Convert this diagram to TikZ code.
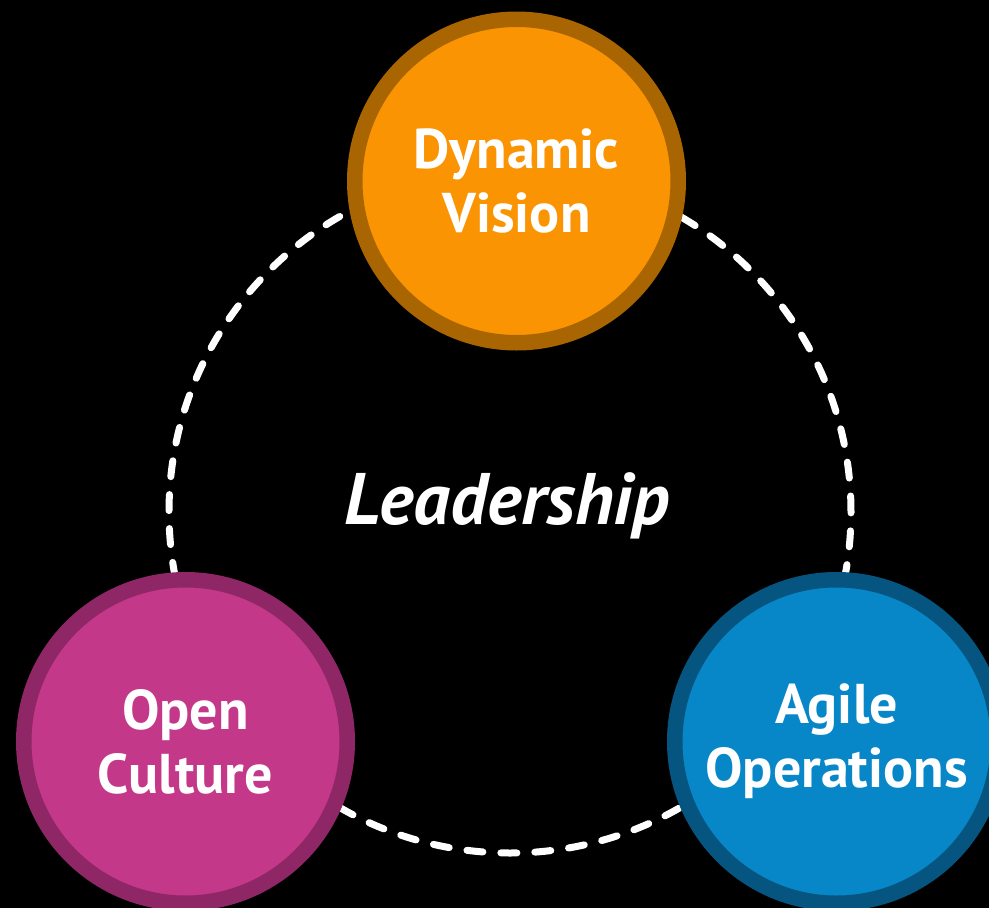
\documentclass[tikz,border=0pt]{standalone}
\usepackage{fontspec}
\setmainfont{PT Sans}
\usetikzlibrary{positioning}

\definecolor{visionfill}{RGB}{251,148,3}
\definecolor{visionring}{RGB}{168,101,2}
\definecolor{culturefill}{RGB}{196,56,138}
\definecolor{culturering}{RGB}{143,38,102}
\definecolor{opsfill}{RGB}{8,135,200}
\definecolor{opsring}{RGB}{6,85,128}

\begin{document}
\begin{tikzpicture}[
  x=1pt, y=-1pt,
  pillar/.style={circle, line width=15.5pt, minimum size=323.5pt, inner sep=0pt,
                 align=center, text=white,
                 font=\fontsize{56}{64}\selectfont\bfseries},
  ring/.style={white, line width=7pt, line cap=round,
               dash pattern=on 16pt off 18pt},
]
% ---- canvas -----------------------------------------------------------------
\fill[black] (0,0) rectangle (989,908);
\useasboundingbox (0,0) rectangle (989,908);

% ---- dashed loop behind the three pillars ----------------------------------
\coordinate (hub) at (510,512);
\draw[ring] (hub) circle[radius=341pt];

\node[font=\fontsize{73}{80}\selectfont\bfseries\itshape, text=white,
      anchor=base] (lead) at (507,524) {Leadership};

% ---- the three pillars ------------------------------------------------------
\node[pillar, fill=visionfill,  draw=visionring]  (vision)     at (516.5,181)
     {Dynamic\\Vision};
\node[pillar, fill=culturefill, draw=culturering] (culture)    at (185.5,741.5)
     {Open\\Culture};
\node[pillar, fill=opsfill,     draw=opsring]     (operations) at (836.5,741.5)
     {Agile\\Operations};
\end{tikzpicture}
\end{document}
